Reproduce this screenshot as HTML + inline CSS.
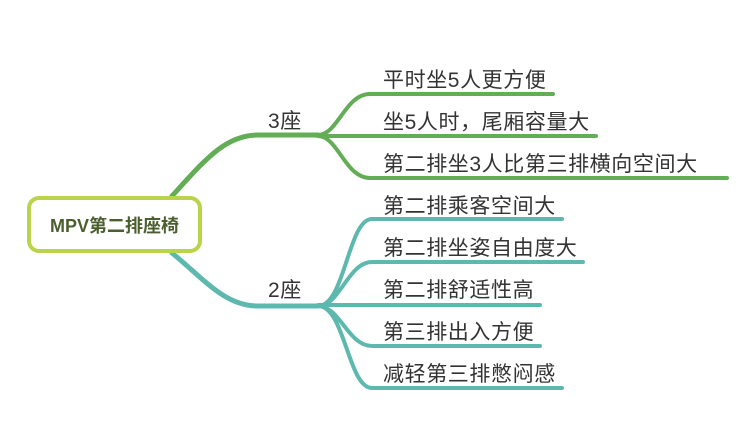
<!DOCTYPE html>
<html><head><meta charset="utf-8"><style>
html,body{margin:0;padding:0;background:#fff;width:752px;height:422px;overflow:hidden}
svg{display:block}
text{font-family:"Liberation Sans","Noto Sans CJK SC",sans-serif}
</style></head><body>
<svg width="752" height="422" viewBox="0 0 752 422">
<g fill="none" stroke-linecap="round">
<path d="M172 196 C205 160 225 135 258 135 L318 135" stroke="#62ad55" stroke-width="5"/>
<g stroke="#62ad55" stroke-width="4">
<path d="M318 135 C338 135 345 94 370 94 L553 94"/>
<path d="M318 136 L596 136"/>
<path d="M318 136 C338 136 345 178 370 178 L727 178"/>
</g>
<path d="M172 253 C205 280 225 306 258 306 L318 306" stroke="#5db8ae" stroke-width="5"/>
<g stroke="#5db8ae" stroke-width="4">
<path d="M318 306 C345 306 348 219 372 219 L562 219"/>
<path d="M318 306 C340 306 348 262 372 262 L583 262"/>
<path d="M318 305 L540 305"/>
<path d="M318 306 C340 306 348 346 372 346 L540 346"/>
<path d="M318 306 C345 306 348 388 372 388 L562 388"/>
</g>
</g>
<rect x="29" y="198" width="171" height="53" rx="10" fill="#fff" stroke="#b9d44a" stroke-width="4"/>
<text x="114.5" y="232" text-anchor="middle" font-size="18" font-weight="bold" fill="#4a5e2e">MPV第二排座椅</text>
<g font-size="21" fill="#333" letter-spacing="0.6">
<text x="268" y="128">3座</text>
<text x="268" y="297">2座</text>
<text x="383" y="87">平时坐5人更方便</text>
<text x="383" y="129">坐5人时，尾厢容量大</text>
<text x="383" y="171">第二排坐3人比第三排横向空间大</text>
<text x="383" y="213">第二排乘客空间大</text>
<text x="383" y="255">第二排坐姿自由度大</text>
<text x="383" y="297">第二排舒适性高</text>
<text x="383" y="339">第三排出入方便</text>
<text x="383" y="381">减轻第三排憋闷感</text>
</g>
</svg>
</body></html>
